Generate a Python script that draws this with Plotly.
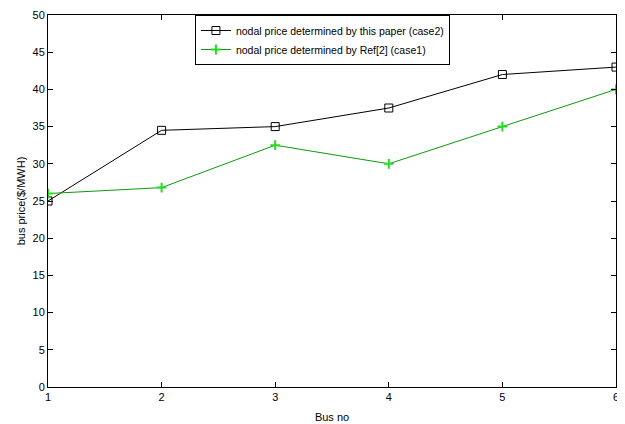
import plotly.graph_objects as go

bus_no = [1, 2, 3, 4, 5, 6]
price_case2 = [25.0, 34.5, 35.0, 37.5, 42.0, 43.0]
price_case1 = [26.0, 26.8, 32.5, 30.0, 35.0, 40.0]
x_ticks = [1, 2, 3, 4, 5, 6]
y_ticks = [0, 5, 10, 15, 20, 25, 30, 35, 40, 45, 50]

FONT = "Liberation Sans Narrow, Arial Narrow, Liberation Sans, Arial, sans-serif"

fig = go.Figure()
fig.add_trace(go.Scatter(
    x=bus_no, y=price_case2, mode="lines+markers",
    name="nodal price determined by this paper (case2)",
    line=dict(color="black", width=1),
    marker=dict(symbol="square-open", size=8, color="black", line=dict(width=1)),
))
fig.add_trace(go.Scatter(
    x=bus_no, y=price_case1, mode="lines+markers",
    name="nodal price determined by Ref[2] (case1)",
    line=dict(color="#0a9a0a", width=1),
    marker=dict(symbol="cross-thin", size=7, color="#22dd22", line=dict(width=2, color="#22dd22")),
))

axis_common = dict(
    showline=True, linecolor="black", linewidth=1, mirror="ticks",
    ticks="inside", ticklen=5, tickcolor="black", showgrid=False, zeroline=False,
    tickfont=dict(family=FONT, size=11, color="black"), automargin=False,
    ticklabeloverflow="allow",
)
fig.update_xaxes(range=[1, 6], tickvals=x_ticks, **axis_common,
                 title=dict(text="Bus no", font=dict(family=FONT, size=11, color="black"), standoff=11))
fig.update_yaxes(range=[0, 50], tickvals=y_ticks, **axis_common,
                 title=dict(text="bus price($/MWH)", font=dict(family=FONT, size=11, color="black"), standoff=4))

fig.update_layout(
    width=617, height=416,
    margin=dict(l=40, r=9, t=7, b=37, autoexpand=False),
    plot_bgcolor="white", paper_bgcolor="white",
    legend=dict(x=0.2587, y=1.0, xanchor="left", yanchor="top",
                bgcolor="white", bordercolor="black", borderwidth=1,
                font=dict(family=FONT, size=10.5, color="black"),
                tracegroupgap=0, itemwidth=30),
    showlegend=True,
)
fig.write_html("out.html")
